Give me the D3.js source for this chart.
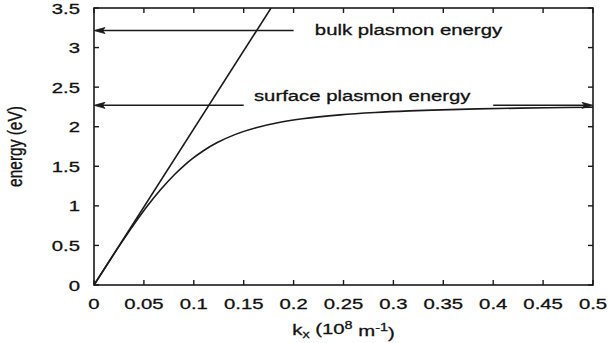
<!DOCTYPE html>
<html>
<head>
<meta charset="utf-8">
<script src="https://cdn.jsdelivr.net/npm/d3@7"></script>
<style>
  html, body { margin: 0; padding: 0; background: #fff; }
  svg { display: block; }
  text { font-family: "Liberation Sans", Arial, Helvetica, sans-serif; fill: #111; stroke: #111; stroke-width: 0.3px; }
</style>
</head>
<body>
<svg id="chart" width="608" height="343"></svg>
<script>
// Surface plasmon polariton dispersion vs. the light line
const kTicks = [0, 0.05, 0.1, 0.15, 0.2, 0.25, 0.3, 0.35, 0.4, 0.45, 0.5];
const eTicks = [0, 0.5, 1, 1.5, 2, 2.5, 3, 3.5];

// light line E = ħc·k
const lightK = [0, 0.1774];
const lightE = [0, 3.5];

// surface plasmon branch
const spK = [0, 0.0127, 0.0257, 0.0392, 0.0536, 0.0664, 0.0810, 0.0894, 0.0989, 0.1100,
             0.1235, 0.1411, 0.1663, 0.1841, 0.2088, 0.2465, 0.2818, 0.3161, 0.3386,
             0.3842, 0.4272, 0.4552, 0.5];
const spE = [0, 0.25, 0.5, 0.75, 1.0, 1.2, 1.4, 1.5, 1.6, 1.7,
             1.8, 1.9, 2.0, 2.05, 2.1, 2.15, 2.18, 2.2, 2.21,
             2.225, 2.235, 2.24, 2.2465];

// reference energies
const bulkE = 3.215;
const surfE = 2.27;

// annotation arrows [from k, to k, energy]
const arrowFrom = [0.2, 0.15, 0.4];
const arrowTo   = [0,   0,    0.5];
const arrowE    = [bulkE, surfE, surfE];

// annotation labels
const labelText = ["bulk plasmon energy", "surface plasmon energy"];
const labelK    = [0.2213, 0.1603];
const labelE    = [3.215, 2.319];
const labelDy   = ["0.3em", "0"];

const SX = 1.31;          // horizontal glyph stretch
const FS = 15.5;          // font size
const ink = "#1a1a1a";

const svg = d3.select("#chart");
const x = d3.scaleLinear().domain([0, 0.5]).range([94, 593]);
const y = d3.scaleLinear().domain([0, 3.5]).range([285, 8]);

// clip region for the plot area
svg.append("clipPath").attr("id", "plotClip")
  .append("rect")
  .attr("x", x(0)).attr("y", y(3.5))
  .attr("width", x(0.5) - x(0)).attr("height", y(0) - y(3.5));

const fmt = d => String(d);

// inward ticks on all four sides
const tickLen = 5;
const g = svg.append("g");
kTicks.forEach(k => {
  g.append("line").attr("x1", x(k)).attr("x2", x(k))
    .attr("y1", y(0)).attr("y2", y(0) - tickLen)
    .attr("stroke", ink).attr("stroke-width", 1.4);
  g.append("line").attr("x1", x(k)).attr("x2", x(k))
    .attr("y1", y(3.5)).attr("y2", y(3.5) + tickLen)
    .attr("stroke", ink).attr("stroke-width", 1.4);
  g.append("text")
    .attr("transform", `translate(${x(k)},${y(0) + 23.5}) scale(${SX},1)`)
    .attr("text-anchor", "middle")
    .style("font-size", FS + "px")
    .text(fmt(k));
});
eTicks.forEach(e => {
  g.append("line").attr("x1", x(0)).attr("x2", x(0) + tickLen)
    .attr("y1", y(e)).attr("y2", y(e))
    .attr("stroke", ink).attr("stroke-width", 1.4);
  g.append("line").attr("x1", x(0.5)).attr("x2", x(0.5) - tickLen)
    .attr("y1", y(e)).attr("y2", y(e))
    .attr("stroke", ink).attr("stroke-width", 1.4);
  g.append("text")
    .attr("transform", `translate(80,${y(e)}) scale(${SX},1)`)
    .attr("text-anchor", "end")
    .attr("dy", "0.36em")
    .style("font-size", FS + "px")
    .text(fmt(e));
});

// plot border
svg.append("rect")
  .attr("x", x(0)).attr("y", y(3.5))
  .attr("width", x(0.5) - x(0)).attr("height", y(0) - y(3.5))
  .attr("fill", "none").attr("stroke", ink).attr("stroke-width", 1.6);

const line = d3.line().x(d => x(d[0])).y(d => y(d[1]));
const plot = svg.append("g").attr("clip-path", "url(#plotClip)");

plot.append("path")
  .datum(d3.zip(lightK, lightE))
  .attr("d", line)
  .attr("fill", "none").attr("stroke", ink).attr("stroke-width", 1.6);

plot.append("path")
  .datum(d3.zip(spK, spE))
  .attr("d", line.curve(d3.curveMonotoneX))
  .attr("fill", "none").attr("stroke", ink).attr("stroke-width", 1.6);

// arrows
arrowFrom.forEach((k0, i) => {
  const x0 = x(k0), x1 = x(arrowTo[i]), yy = y(arrowE[i]);
  const dir = Math.sign(x1 - x0);
  svg.append("line")
    .attr("x1", x0).attr("x2", x1 - dir * 4)
    .attr("y1", yy).attr("y2", yy)
    .attr("stroke", ink).attr("stroke-width", 1.5);
  const L = 11, W = 3;
  svg.append("path")
    .attr("d", `M${x1},${yy} L${x1 - dir * L},${yy - W} L${x1 - dir * (L - 2.5)},${yy} L${x1 - dir * L},${yy + W} Z`)
    .attr("fill", ink).attr("stroke", ink).attr("stroke-width", 0.8)
    .attr("stroke-linejoin", "miter");
});

// labels
labelText.forEach((t, i) => {
  svg.append("text")
    .attr("transform", `translate(${x(labelK[i])},${y(labelE[i])}) scale(${SX},1)`)
    .attr("dy", labelDy[i])
    .style("font-size", FS + "px")
    .text(t);
});

// axis titles
const xt = svg.append("text")
  .attr("transform", `translate(${(x(0) + x(0.5)) / 2},335) scale(${SX},1)`)
  .attr("text-anchor", "middle")
  .style("font-size", FS + "px");
xt.append("tspan").text("k");
xt.append("tspan").attr("dy", "0.3em").style("font-size", "11px").text("x");
xt.append("tspan").attr("dy", "-0.3em").text(" (10");
xt.append("tspan").attr("dy", "-0.45em").style("font-size", "11px").text("8");
xt.append("tspan").attr("dy", "0.45em").text(" m");
xt.append("tspan").attr("dy", "-0.45em").style("font-size", "11px").text("-1");
xt.append("tspan").attr("dy", "0.45em").text(")");

svg.append("text")
  .attr("transform", `translate(22,${(y(0) + y(3.5)) / 2}) scale(${SX},1) rotate(-90)`)
  .attr("text-anchor", "middle")
  .style("font-size", FS + "px")
  .text("energy (eV)");
</script>
</body>
</html>
